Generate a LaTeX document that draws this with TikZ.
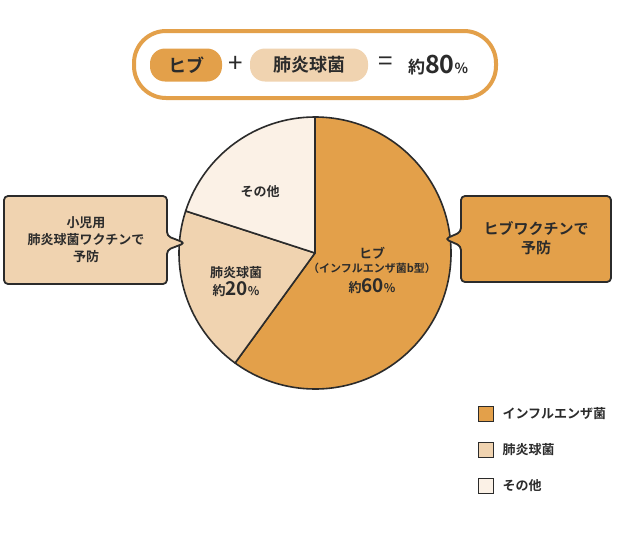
\documentclass[tikz,border=0pt]{standalone}
\usepackage{fontspec}
\setmainfont{Noto Sans CJK JP}[BoldFont={* Bold}]
\usetikzlibrary{calc}
\definecolor{hib}{HTML}{E3A04A}
\definecolor{pneu}{HTML}{F0D3B0}
\definecolor{oth}{HTML}{FBF1E6}
\definecolor{ink}{HTML}{2B2B2B}
\tikzset{
  slice/.style={draw=ink,line width=1.6pt,line join=round},
  callout/.style={draw=ink,line width=1.8pt,rounded corners=4pt,line join=round},
  lbl/.style={text=ink,font=\bfseries\fontsize{13}{17}\selectfont,align=center},
  legsq/.style={draw=ink,line width=1.6pt,minimum size=15pt,inner sep=0pt},
  legtx/.style={text=ink,font=\bfseries\fontsize{13}{15}\selectfont,anchor=west}
}
\begin{document}
\begin{tikzpicture}[x=1pt,y=-1pt]
\useasboundingbox (0,0) rectangle (630,536);
\fill[white] (0,0) rectangle (630,536);
% banner
\draw[hib,line width=4pt,rounded corners=32pt] (134,31) rectangle (496,98);
\node[fill=hib,rounded corners=15pt,minimum width=72pt,minimum height=33pt,lbl,font=\bfseries\fontsize{18}{18}\selectfont] (hibp) at (186,65) {ヒブ};
\node[lbl,font=\fontsize{26}{26}\selectfont] (plus) at (236,64) {+};
\node[fill=pneu,rounded corners=15pt,minimum width=118pt,minimum height=33pt,lbl,font=\bfseries\fontsize{18}{18}\selectfont] (pnp) at (309,65) {肺炎球菌};
\node[lbl,font=\fontsize{26}{26}\selectfont] (eq) at (386,64) {=};
\node[lbl] (tot) at (438,65) {\fontsize{17}{18}\selectfont 約\fontsize{25}{25}\selectfont80\fontsize{14}{16}\selectfont\%};
% pie
\coordinate (c) at (315,253);
\def\R{136}
\filldraw[slice,fill=hib] (c) -- ++(-90:\R) arc[start angle=-90,end angle=126,radius=\R] -- cycle;
\filldraw[slice,fill=pneu] (c) -- ++(126:\R) arc[start angle=126,end angle=198,radius=\R] -- cycle;
\filldraw[slice,fill=oth] (c) -- ++(198:\R) arc[start angle=198,end angle=270,radius=\R] -- cycle;
\node[lbl] (l3) at (260,192) {その他};
\node[lbl] (l2) at (236,282) {肺炎球菌\\[1pt]{\fontsize{13}{15}\selectfont 約}{\fontsize{19}{19}\selectfont20}{\fontsize{12}{12}\selectfont\%}};
\node[lbl] (l1) at (372,270) {ヒブ\\[-3pt]{\fontsize{11}{13}\selectfont（インフルエンザ菌b型）}\\[3pt]{\fontsize{13}{15}\selectfont 約}{\fontsize{19}{19}\selectfont60}{\fontsize{12}{12}\selectfont\%}};
% callouts
\filldraw[callout,fill=pneu] (4,196) -- (167,196) -- (167,236) -- (185,243) -- (167,250) -- (167,284) -- (4,284) -- cycle;
\node[lbl] (cl) at (86,240) {小児用\\肺炎球菌ワクチンで\\予防};
\filldraw[callout,fill=hib] (461,196) -- (611,196) -- (611,282) -- (461,282) -- (461,246) -- (445,239) -- (461,232) -- cycle;
\node[lbl,font=\bfseries\fontsize{15}{19}\selectfont] (cr) at (536,238) {ヒブワクチンで\\予防};
% legend
\node[legsq,fill=hib] (s1) at (486,414) {};
\node[legtx] (t1) at (499,414) {インフルエンザ菌};
\node[legsq,fill=pneu] (s2) at (486,450) {};
\node[legtx] (t2) at (499,450) {肺炎球菌};
\node[legsq,fill=oth] (s3) at (486,486) {};
\node[legtx] (t3) at (499,486) {その他};
\end{tikzpicture}
\end{document}
